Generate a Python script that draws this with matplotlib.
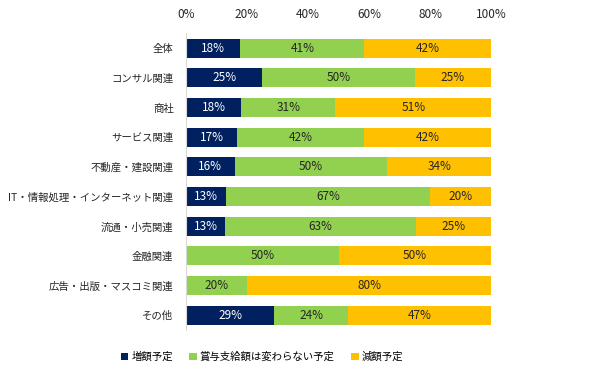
import matplotlib

matplotlib.use("Agg")
import matplotlib.pyplot as plt
import numpy as np
from matplotlib.patches import Patch

plt.rcParams["font.family"] = ["Noto Sans CJK JP", "DejaVu Sans"]

CATEGORIES = [
    "全体",
    "コンサル関連",
    "商社",
    "サービス関連",
    "不動産・建設関連",
    "IT・情報処理・インターネット関連",
    "流通・小売関連",
    "金融関連",
    "広告・出版・マスコミ関連",
    "その他",
]
INCREASE = [18, 25, 18, 17, 16, 13, 13, 0, 0, 29]
SAME = [41, 50, 31, 42, 50, 67, 63, 50, 20, 24]
DECREASE = [42, 25, 51, 42, 34, 20, 25, 50, 80, 47]
SERIES_LABELS = ["増額予定", "賞与支給額は変わらない予定", "減額予定"]
COLORS = ["#002060", "#92D050", "#FFC000"]
TEXT_COLORS = ["white", "#262626", "#262626"]

data = np.array([INCREASE, SAME, DECREASE], dtype=float)
# rounded shares do not always add up to 100, scale each row to full width
widths = data / data.sum(axis=0) * 100

fig = plt.figure(figsize=(6.04, 3.79), dpi=100)
ax = fig.add_axes([0.308, 0.129, 0.505, 0.783])

y = np.arange(len(CATEGORIES))
left = np.zeros(len(CATEGORIES))
for vals, w, color, tcolor in zip(data, widths, COLORS, TEXT_COLORS):
    ax.barh(y, w, left=left, height=0.64, color=color, edgecolor="none")
    for i, (v, wi) in enumerate(zip(vals, w)):
        if v > 0:
            ax.text(left[i] + wi / 2, y[i], f"{v:.0f}%", ha="center",
                    va="center", fontsize=8.5, color=tcolor)
    left += w

ax.set_xlim(0, 100)
ax.set_ylim(len(CATEGORIES) - 0.5, -0.5)
ax.set_yticks(y)
ax.set_yticklabels(CATEGORIES, fontsize=7.5, color="#262626")
ax.set_xticks(np.arange(0, 101, 20))
ax.set_xticklabels([f"{t}%" for t in range(0, 101, 20)], fontsize=8.5,
                   color="#262626")
ax.xaxis.tick_top()
ax.tick_params(axis="both", length=0)
ax.tick_params(axis="x", pad=9)
ax.tick_params(axis="y", pad=9)
for side in ["top", "right", "bottom"]:
    ax.spines[side].set_visible(False)
ax.spines["left"].set_color("#D9D9D9")
ax.spines["left"].set_linewidth(0.8)

handles = [Patch(facecolor=c, edgecolor="none") for c in COLORS]
fig.legend(handles, SERIES_LABELS, loc="center", ncol=3,
           bbox_to_anchor=(262 / 604, 1 - 357 / 379), frameon=False,
           fontsize=7.5, handlelength=0.7, handleheight=0.7,
           handletextpad=0.3, columnspacing=1.6)

fig.savefig("out.png", dpi=100)
